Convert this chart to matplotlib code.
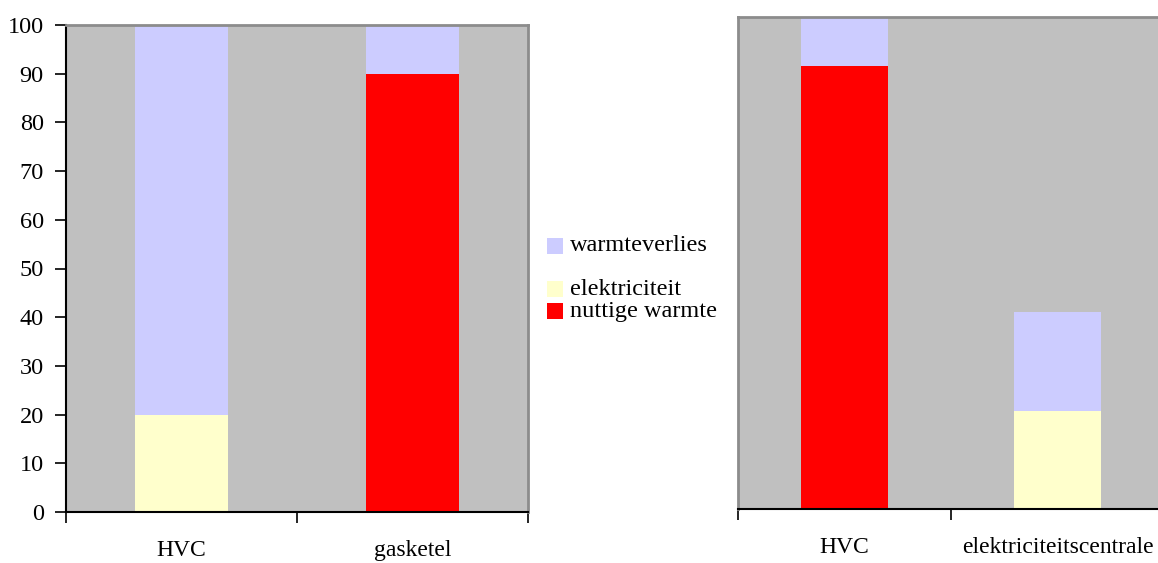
import matplotlib
matplotlib.use("Agg")
import matplotlib.pyplot as plt
from matplotlib.patches import Rectangle

plt.rcParams['font.family'] = ['Liberation Serif', 'DejaVu Serif']

# Data
left_categories = ["HVC", "gasketel"]
left_elektriciteit = [20, 0]
left_nuttige_warmte = [0, 90]
left_warmteverlies = [80, 10]

right_categories = ["HVC", "elektriciteitscentrale"]
right_elektriciteit = [0, 20]
right_nuttige_warmte = [90, 0]
right_warmteverlies = [10, 20]

yticks = [0, 10, 20, 30, 40, 50, 60, 70, 80, 90, 100]

series_labels = ["warmteverlies", "", "elektriciteit", "nuttige warmte"]

C_VERLIES = "#CCCCFF"
C_ELEK = "#FFFFCC"
C_WARMTE = "#FF0000"
C_BG = "#C0C0C0"
C_FRAME = "#8C8C8C"
FS_X = 17
FS_Y = 17.5
FS_LEG = 17.5

W, H = 1158, 563
fig = plt.figure(figsize=(W / 100, H / 100), dpi=100)


def fx(px):
    return px / W


def fy(py):
    return 1 - py / H


def stacked(ax, cats, elek, warm, verlies):
    x = [i + 0.5 for i in range(len(cats))]
    bw = 0.405
    base = [e + w for e, w in zip(elek, warm)]
    ax.bar(x, elek, bw, color=C_ELEK, linewidth=0)
    ax.bar(x, warm, bw, bottom=elek, color=C_WARMTE, linewidth=0)
    ax.bar(x, verlies, bw, bottom=base, color=C_VERLIES, linewidth=0)
    ax.set_facecolor(C_BG)
    ax.set_xlim(0, len(cats))
    ax.set_ylim(0, 100)
    ax.set_xticks(range(len(cats) + 1))
    ax.set_xticklabels([])
    ax.set_xticks(x, minor=True)
    ax.set_xticklabels(cats, minor=True, fontsize=FS_X)
    ax.tick_params(axis='x', which='minor', length=0, pad=20)
    ax.tick_params(axis='x', which='major', length=8, width=1.2, direction='out', color='black')
    ax.spines['bottom'].set_color('black')
    ax.spines['bottom'].set_linewidth(1.5)
    for side in ('top', 'right'):
        ax.spines[side].set_color(C_FRAME)
        ax.spines[side].set_linewidth(2)


# Left panel
axl = fig.add_axes([fx(66), fy(512), fx(528 - 66), (512 - 25) / H])
stacked(axl, left_categories, left_elektriciteit, left_nuttige_warmte, left_warmteverlies)
axl.set_yticks(yticks)
axl.set_yticklabels([str(v) for v in yticks], fontsize=FS_Y)
axl.tick_params(axis='y', length=8, width=1.2, pad=8, color='black')
axl.spines['left'].set_color('black')
axl.spines['left'].set_linewidth(1.5)

# Right panel
axr = fig.add_axes([fx(738), fy(509), fx(1164 - 738), (509 - 17) / H])
stacked(axr, right_categories, right_elektriciteit, right_nuttige_warmte, right_warmteverlies)
axr.set_yticks([])
axr.spines['left'].set_color(C_FRAME)
axr.spines['left'].set_linewidth(2)

# Legend
legend_colors = [C_VERLIES, None, C_ELEK, C_WARMTE]
row_y = 246
for label, col in zip(series_labels, legend_colors):
    if col is not None:
        fig.patches.append(Rectangle((fx(547), fy(row_y + 8)), fx(16), 16 / H,
                                     transform=fig.transFigure, facecolor=col,
                                     edgecolor='none'))
        fig.text(fx(570), fy(row_y), label, fontsize=FS_LEG, va='center', ha='left')
    row_y += 21.7

fig.savefig("out.png", dpi=100)
